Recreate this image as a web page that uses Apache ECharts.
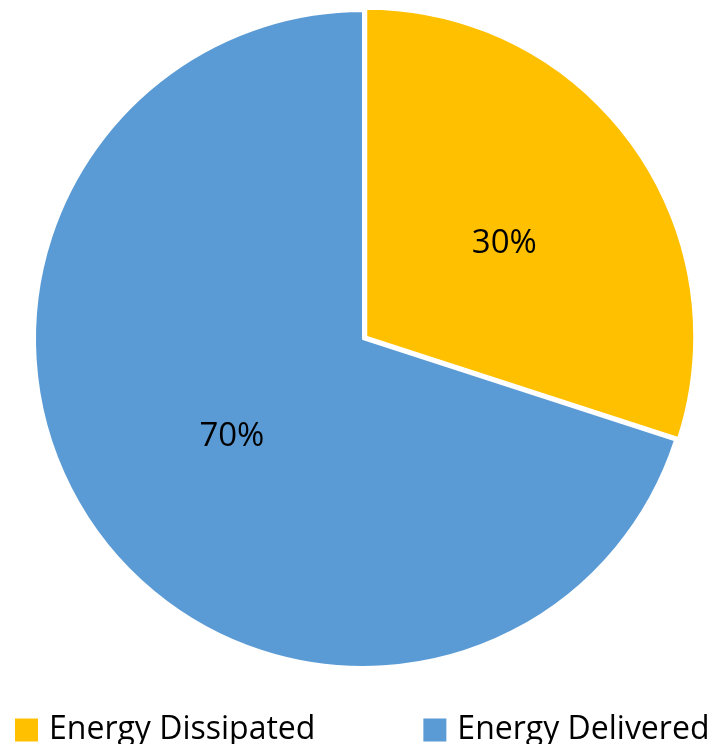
<!DOCTYPE html>
<html>
<head>
<meta charset="utf-8">
<script src="https://cdn.jsdelivr.net/npm/echarts@6/dist/echarts.min.js"></script>
<style>
  html, body { margin: 0; padding: 0; background: #fff; }
  #chart { width: 723px; height: 744px; }
</style>
</head>
<body>
<div id="chart"></div>
<script>
// Share of energy: dissipated vs delivered
const categories = ['Energy Dissipated', 'Energy Delivered'];
const shares = [30, 70];
const colors = ['#FFC000', '#5B9BD5'];

const chart = echarts.init(document.getElementById('chart'), null, { renderer: 'canvas' });
const FONT = "'Open Sans', sans-serif";

chart.setOption({
  animation: false,
  backgroundColor: '#ffffff',
  legend: {
    data: categories,
    left: 15,
    top: 714,
    padding: 0,
    itemWidth: 23,
    itemHeight: 23,
    itemGap: 108,
    icon: 'rect',
    itemStyle: { borderWidth: 0 },
    textStyle: { fontFamily: FONT, fontSize: 32, lineHeight: 23, color: '#000', padding: [0, 0, 0, 6] }
  },
  series: [{
    type: 'pie',
    center: [363, 339],
    radius: 328,
    startAngle: 90,
    clockwise: true,
    selectedMode: 'single',
    selectedOffset: 4,
    label: {
      position: 'inside',
      formatter: p => p.value + '%',
      fontFamily: FONT,
      fontSize: 33,
      color: '#000'
    },
    labelLine: { show: false },
    labelLayout: function (params) {
      if (params.dataIndex === 0) return { dx: 3, dy: 5 };
      return { dx: 4, dy: -1 };
    },
    itemStyle: { borderColor: '#ffffff', borderWidth: 2 },
    emphasis: { disabled: true },
    data: categories.map((name, i) => ({
      name: name,
      value: shares[i],
      selected: i === 0,
      itemStyle: { color: colors[i] }
    }))
  }]
});
</script>
</body>
</html>
